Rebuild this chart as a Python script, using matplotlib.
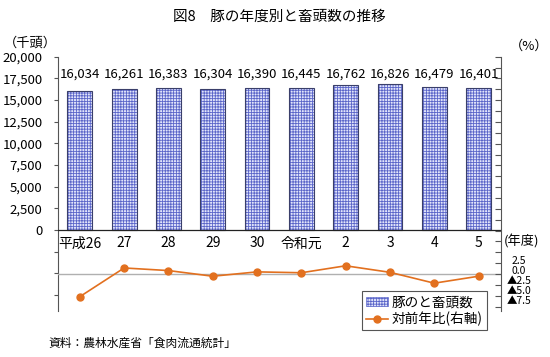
import matplotlib
matplotlib.use("Agg")
import matplotlib.pyplot as plt
from matplotlib.patches import Patch
from matplotlib.lines import Line2D
import numpy as np

plt.rcParams['font.family'] = ['Noto Sans CJK JP', 'DejaVu Sans']
plt.rcParams['hatch.linewidth'] = 0.6

categories = ["平成26", "27", "28", "29", "30", "令和元", "2", "3", "4", "5"]
slaughter = [16034, 16261, 16383, 16304, 16390, 16445, 16762, 16826, 16479, 16401]
yoy = [-5.2, 1.4, 0.8, -0.5, 0.5, 0.3, 1.9, 0.4, -2.1, -0.5]
left_ticks = [0, 2500, 5000, 7500, 10000, 12500, 15000, 17500, 20000]
right_labels = ["2.5", "0.0", "▲2.5", "▲5.0", "▲7.5"]

W, H = 550, 357
fig = plt.figure(figsize=(5.5, 3.57), dpi=100)
ax = fig.add_axes([57.7 / W, 1 - 311 / H, (500.7 - 57.7) / W, (311 - 56.7) / H])
x = np.arange(len(categories))

ax.bar(x, slaughter, width=0.56, facecolor='#e2e5fb', edgecolor='#5b66c9',
       hatch='++++++', linewidth=0, zorder=2)
ax.bar(x, slaughter, width=0.56, fill=False, edgecolor='#3a3f6a', linewidth=0.8, zorder=3)
ax.axhline(0, color='#222222', linewidth=0.9, zorder=4)

ax.set_xlim(-0.5, len(categories) - 0.5)
ax.set_ylim(-9350, 20000)
yt = np.arange(-7500, 20001, 2500)
ax.set_yticks(yt)
ax.set_yticklabels([f"{int(v):,}" if v in left_ticks else "" for v in yt], fontsize=9.5)
ax.set_xticks([])
ax.tick_params(axis='y', direction='out', length=3, width=0.8, color='#555555', pad=8)
for s in ['top', 'bottom']:
    ax.spines[s].set_visible(False)
ax.spines['left'].set_color('#555555')
ax.spines['right'].set_visible(False)

for xi, v in zip(x, slaughter):
    ax.text(xi, 18000, f"{v:,}", ha='center', va='center', fontsize=9.5, zorder=5)
for xi, c in zip(x, categories):
    ax.text(xi, -1550, c, ha='center', va='center', fontsize=10)

ax2 = ax.twinx()
ax2.set_ylim(-8.5, 50)
ax2.axhline(0, color='#b0b0b0', linewidth=1.0, zorder=1)
ax2.plot(x, yoy, color='#e2701f', linewidth=1.2, marker='o', markersize=5, zorder=6)
rt = np.arange(-7.5, 50.01, 2.5)
ax2.set_yticks(rt)
ax2.set_yticklabels([])
ax2.tick_params(axis='y', direction='in', length=4, width=0.8, color='#555555')
for s in ['top', 'bottom', 'left']:
    ax2.spines[s].set_visible(False)
ax2.spines['right'].set_color('#555555')

# right-axis labels, squeezed as in the reference
lab_pos = [(512, 261), (512, 271), (507, 281), (507, 291), (507, 301)]
for (px, py), t in zip(lab_pos, right_labels):
    fig.text(px / W, 1 - py / H, t, ha='left', va='center', fontsize=7.5)

handles = [Patch(facecolor='#e2e5fb', edgecolor='#5b66c9', hatch='++++++', linewidth=0.5),
           Line2D([0], [0], color='#e2701f', marker='o', markersize=5, linewidth=1.2)]
leg = fig.legend(handles, ["豚のと畜頭数", "対前年比(右軸)"], loc='upper left',
                 bbox_to_anchor=(362 / W, 1 - 291 / H), bbox_transform=fig.transFigure,
                 fontsize=9.8, frameon=True, fancybox=False, framealpha=1,
                 edgecolor='#555555', handlelength=1.6, handletextpad=0.3,
                 borderpad=0.3, labelspacing=0.2, borderaxespad=0)
leg.get_frame().set_linewidth(0.8)

fig.text(0.508, 1 - 17 / H, "図8　豚の年度別と畜頭数の推移", ha='center', va='center', fontsize=10.5)
fig.text(4 / W, 1 - 43 / H, "（千頭）", ha='left', va='center', fontsize=9.5)
fig.text(510 / W, 1 - 46 / H, "（%）", ha='left', va='center', fontsize=9.5)
fig.text(504 / W, 1 - 241 / H, "(年度)", ha='left', va='center', fontsize=9.5)
fig.text(48 / W, 1 - 343 / H, "資料：農林水産省「食肉流通統計」", ha='left', va='center', fontsize=8.5)

fig.savefig("out.png", dpi=100)
